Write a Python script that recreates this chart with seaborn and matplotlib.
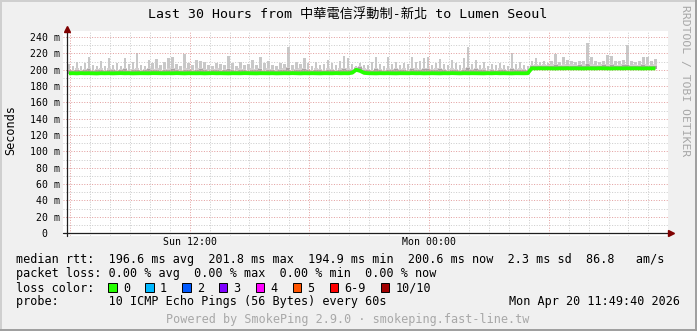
import numpy as np
import matplotlib
matplotlib.use("Agg")
import matplotlib.pyplot as plt
import seaborn as sns
from matplotlib.patches import Rectangle
from matplotlib.lines import Line2D

sns.set_theme(style="white")
MONO = ['DejaVu Sans Mono', 'Noto Sans CJK TC']
plt.rcParams['font.family'] = MONO

# ---------------- data ----------------
start_hour = 5.85      # hours since Sun 00:00 of first bin
bin_hours = 0.2        # 12 minute bins

median_rtt = [
    195.5, 195.6, 195.4, 195.7, 195.5, 195.6, 195.5, 195.3, 195.6, 195.5,
    195.6, 195.4, 195.5, 195.7, 195.5, 195.6, 195.4, 195.5, 195.6, 195.5,
    195.5, 195.7, 195.6, 195.4, 195.5, 195.6, 195.5, 195.7, 195.5, 195.4,
    195.6, 195.5, 195.5, 195.6, 195.4, 195.5, 195.7, 195.5, 195.6, 195.5,
    195.4, 195.6, 195.5, 195.5, 195.7, 195.6, 195.5, 195.4, 195.6, 195.5,
    195.5, 195.6, 195.4, 195.5, 195.6, 195.5, 195.7, 195.5, 195.4, 195.6,
    195.5, 195.6, 195.5, 195.4, 195.6, 195.5, 195.5, 195.7, 195.5, 195.6,
    195.5, 196.2, 199.8, 198.4, 196.0, 195.6, 195.5, 195.4, 195.6, 195.5,
    195.6, 195.5, 195.4, 195.6, 195.5, 195.5, 195.7, 195.5, 195.6, 195.4,
    195.5, 195.6, 195.5, 195.4, 195.6, 195.5, 195.7, 195.5, 195.4, 195.6,
    195.5, 195.6, 195.5, 195.5, 195.4, 195.6, 195.5, 195.7, 195.5, 195.6,
    195.5, 195.4, 195.6, 195.5, 195.5, 195.6,
    201.6, 201.5, 201.7, 201.5,
    201.6, 201.5, 201.4, 201.6, 201.5, 201.7, 201.5, 201.6, 201.5, 201.4,
    201.6, 201.5, 201.5, 201.7, 201.6, 201.5, 201.4, 201.6, 201.5, 201.5,
    201.7, 201.5, 201.6, 201.5, 201.4, 201.6, 201.5, 201.6,
]

smoke_min = [
    194.9, 194.8, 194.7, 194.9, 194.8, 194.9, 194.8, 194.6, 194.9, 194.8,
    194.9, 194.7, 194.8, 194.9, 194.8, 194.9, 194.7, 194.8, 194.9, 194.8,
    194.8, 194.9, 194.9, 194.7, 194.8, 194.9, 194.8, 194.9, 194.8, 194.7,
    194.9, 194.8, 194.8, 194.9, 194.7, 194.8, 194.9, 194.8, 194.9, 194.8,
    194.7, 194.9, 194.8, 194.8, 194.9, 194.9, 194.8, 194.7, 194.9, 194.8,
    194.8, 194.9, 194.7, 194.8, 194.9, 194.8, 194.9, 194.8, 194.7, 194.9,
    194.8, 194.9, 194.8, 194.7, 194.9, 194.8, 194.8, 194.9, 194.8, 194.9,
    194.8, 195.4, 198.6, 197.2, 195.2, 194.9, 194.8, 194.7, 194.9, 194.8,
    194.9, 194.8, 194.7, 194.9, 194.8, 194.8, 194.9, 194.8, 194.9, 194.7,
    194.8, 194.9, 194.8, 194.7, 194.9, 194.8, 194.9, 194.8, 194.7, 194.9,
    194.8, 194.9, 194.8, 194.8, 194.7, 194.9, 194.8, 194.9, 194.8, 194.9,
    194.8, 194.7, 194.9, 194.8, 194.8, 194.9,
    200.9, 200.8, 200.9, 200.8,
    200.9, 200.8, 200.7, 200.9, 200.8, 200.9, 200.8, 200.9, 200.8, 200.7,
    200.9, 200.8, 200.8, 200.9, 200.9, 200.8, 200.7, 200.9, 200.8, 200.8,
    200.9, 200.8, 200.9, 200.8, 200.7, 200.9, 200.8, 200.9,
]

smoke_mid = [
    199, 198, 200, 198, 199, 201, 198, 199, 200, 198,
    200, 199, 198, 199, 201, 198, 199, 200, 198, 199,
    201, 199, 200, 198, 199, 200, 201, 199, 198, 200,
    199, 198, 200, 201, 199, 198, 199, 200, 198, 199,
    201, 199, 198, 200, 199, 198, 200, 199, 201, 198,
    200, 199, 198, 199, 200, 202, 198, 199, 200, 201,
    199, 198, 200, 199, 198, 200, 199, 198, 200, 201,
    200, 199, 202, 203, 200, 199, 198, 201, 199, 198,
    200, 199, 201, 199, 200, 198, 201, 200, 199, 201,
    201, 199, 200, 201, 199, 198, 200, 199, 198, 200,
    202, 199, 201, 199, 200, 198, 199, 198, 200, 199,
    198, 201, 199, 200, 199, 198,
    204, 205, 204, 205,
    204, 205, 206, 204, 205, 204, 205, 204, 206, 205,
    207, 205, 204, 205, 206, 205, 206, 204, 205, 206,
    206, 204, 205, 204, 206, 205, 204, 205,
]

smoke_max = [
    207, 205, 209, 204, 208, 215, 206, 204, 210, 205,
    214, 206, 208, 205, 214, 207, 209, 221, 206, 205,
    212, 208, 213, 206, 210, 214, 215, 207, 205, 219,
    208, 206, 212, 211, 209, 206, 205, 208, 207, 206,
    217, 208, 205, 209, 206, 207, 212, 206, 216, 208,
    211, 206, 205, 208, 207, 228, 206, 209, 207, 214,
    208, 205, 209, 206, 207, 212, 208, 206, 210, 217,
    214, 207, 205, 208, 206, 206, 209, 216, 207, 205,
    216, 207, 209, 206, 208, 207, 216, 209, 211, 214,
    215, 206, 208, 213, 207, 206, 212, 208, 206, 214,
    228, 207, 212, 206, 209, 205, 207, 206, 208, 206,
    205, 220, 207, 209, 206, 205,
    210, 214, 209, 210,
    208, 211, 219, 209, 215, 212, 210, 209, 211, 210,
    233, 215, 210, 209, 211, 218, 217, 211, 210, 212,
    230, 210, 209, 211, 216, 216, 210, 213,
]

y_ticks = [0, 20, 40, 60, 80, 100, 120, 140, 160, 180, 200, 220, 240]
y_tick_labels = ["0  ", "20 m", "40 m", "60 m", "80 m", "100 m", "120 m",
                 "140 m", "160 m", "180 m", "200 m", "220 m", "240 m"]
x_major = [6, 12, 18, 24, 30]
x_tick_labels = ["", "Sun 12:00", "", "Mon 00:00", ""]

title = "Last 30 Hours from 中華電信浮動制-新北 to Lumen Seoul"
legend_rows = [
    "median rtt:  196.6 ms avg  201.8 ms max  194.9 ms min  200.6 ms now  2.3 ms sd  86.8   am/s",
    "packet loss: 0.00 % avg  0.00 % max  0.00 % min  0.00 % now",
    "loss color:",
    "probe:       10 ICMP Echo Pings (56 Bytes) every 60s",
]
loss_labels = ["0", "1", "2", "3", "4", "5", "6-9", "10/10"]
loss_colors = ["#26ff00", "#00b8ff", "#0059ff", "#7e00ff", "#ff00ff",
               "#ff5500", "#ff0000", "#a10000"]
date_text = "Mon Apr 20 11:49:40 2026"
footer = "Powered by SmokePing 2.9.0 · smokeping.fast-line.tw"
side_text = "RRDTOOL / TOBI OETIKER"

# ---------------- layout ----------------
W, H, DPI = 697, 331, 100
PX_PER_H = 19.95
PX_PER_M = 196 / 240.0


def fx(px):
    return px / W


def fy(py):
    return 1 - py / H


def t_of(px):
    return 24 + (px - 429) / PX_PER_H


def v_of(py):
    return (233 - py) / PX_PER_M


fig = plt.figure(figsize=(W / DPI, H / DPI), dpi=DPI, facecolor="#f0f0f0")
ax = fig.add_axes([fx(63), fy(236), fx(668) - fx(63), fy(31) - fy(236)])
ax.set_facecolor("white")
for s in ax.spines.values():
    s.set_visible(False)

n = len(median_rtt)
t = start_hour + bin_hours * np.arange(n)
t_edges = np.append(t, t[-1] + bin_hours)
t_mid = t + bin_hours / 2


def ext(a):
    return np.append(np.asarray(a, float), a[-1])


mx = np.asarray(smoke_max, float)
md = np.asarray(smoke_mid, float)
# light smoke: thin spikes up to the max ping
ax.bar(t_mid, mx - md, bottom=md, width=bin_hours * 0.6,
       color="#c8c8c8", linewidth=0, zorder=1)
# lighter continuous haze just above the dense band
ax.fill_between(t_edges, ext(smoke_min), ext(smoke_mid) + 1.5, step="post",
                color="#d4d0d0", linewidth=0, zorder=1.05)
# dense band around the median
ax.fill_between(t_edges, ext(smoke_min), ext(smoke_mid), step="post",
                color="#aaa5a5", linewidth=0, zorder=1.1)
sns.lineplot(x=t_mid, y=median_rtt, ax=ax, color="#26ff00",
             linewidth=2.7, zorder=3, solid_capstyle="butt")

ax.set_xlim(t_of(63), t_of(668))
ax.set_ylim(v_of(236), v_of(31))

ax.set_xticks(x_major)
ax.set_xticklabels(x_tick_labels)
ax.set_xticks(np.arange(6, 36, 1), minor=True)
ax.set_yticks(y_ticks)
ax.set_yticklabels(y_tick_labels)
ax.set_yticks(np.arange(0, 250, 10), minor=True)
ax.tick_params(which="both", length=0)
ax.tick_params(axis="y", pad=2.2, labelsize=7.1, labelcolor="black")
ax.tick_params(axis="x", pad=0.9, labelsize=7.1, labelcolor="black")
for lab in ax.get_xticklabels() + ax.get_yticklabels():
    lab.set_family(MONO)

ax.set_axisbelow("line")
ax.grid(which="minor", color="#cdcdcd", linewidth=0.72,
        linestyle=(0, (1, 1.6)))
ax.grid(which="major", color="#e3a0a0", linewidth=0.72,
        linestyle=(0, (1, 1.6)))
ax.set_xlabel("")
ax.set_ylabel("")

# axes with arrows
x_axis_t = t_of(67)
ax.plot([x_axis_t, x_axis_t], [v_of(236), v_of(29)], color="#1f1f1f",
        linewidth=0.9, clip_on=False, zorder=4)
ax.plot([t_of(63), t_of(669)], [0, 0], color="#1f1f1f", linewidth=0.9,
        clip_on=False, zorder=4)
ax.plot([x_axis_t], [v_of(29)], marker="^", color="#7f0000",
        markersize=4.5, clip_on=False, zorder=5)
ax.plot([t_of(671)], [0], marker=">", color="#7f0000",
        markersize=4.5, clip_on=False, zorder=5)

# ---------------- texts ----------------
fig.text(fx(348), fy(18.5), title, ha="center", va="baseline",
         fontsize=9.5, family=MONO, color="black")
fig.text(fx(11), fy(130), "Seconds", ha="center", va="center",
         rotation=90, fontsize=8.6, family=MONO, color="black")
fig.text(fx(685), fy(81), side_text, ha="center", va="center",
         rotation=270, fontsize=8.2, family=MONO, color="#a6a6a6")

row_base = [263.5, 277.5, 291.5, 305.0]
for txt, yb in zip(legend_rows, row_base):
    fig.text(fx(16), fy(yb), txt, ha="left", va="baseline",
             fontsize=8.5, family=MONO, color="black")
fig.text(fx(680), fy(305.0), date_text, ha="right", va="baseline",
         fontsize=8.5, family=MONO, color="black")
fig.text(fx(348), fy(322.5), footer, ha="center", va="baseline",
         fontsize=8.5, family=MONO, color="#a8a8a8")

CH = 7.1
bx = 108.3
for lab, col in zip(loss_labels, loss_colors):
    fig.add_artist(Rectangle((fx(bx), fy(291.7)), 8.4 / W, 8.4 / H,
                             transform=fig.transFigure, facecolor=col,
                             edgecolor="black", linewidth=0.7))
    fig.text(fx(bx + 14.5), fy(291.5), lab, ha="left", va="baseline",
             fontsize=8.5, family=MONO, color="black")
    bx += (len(lab) + 4.2) * CH

# frame shading
fig.add_artist(Line2D([0, 1], [fy(0.5), fy(0.5)], transform=fig.transFigure,
                      color="#cfcfcf", linewidth=1.4))
fig.add_artist(Line2D([fx(0.5), fx(0.5)], [0, 1], transform=fig.transFigure,
                      color="#cfcfcf", linewidth=1.4))
fig.add_artist(Line2D([0, 1], [fy(330.3), fy(330.3)], transform=fig.transFigure,
                      color="#9e9e9e", linewidth=1.4))
fig.add_artist(Line2D([fx(696.3), fx(696.3)], [0, 1], transform=fig.transFigure,
                      color="#9e9e9e", linewidth=1.4))

fig.savefig("out.png", dpi=DPI, facecolor=fig.get_facecolor())
